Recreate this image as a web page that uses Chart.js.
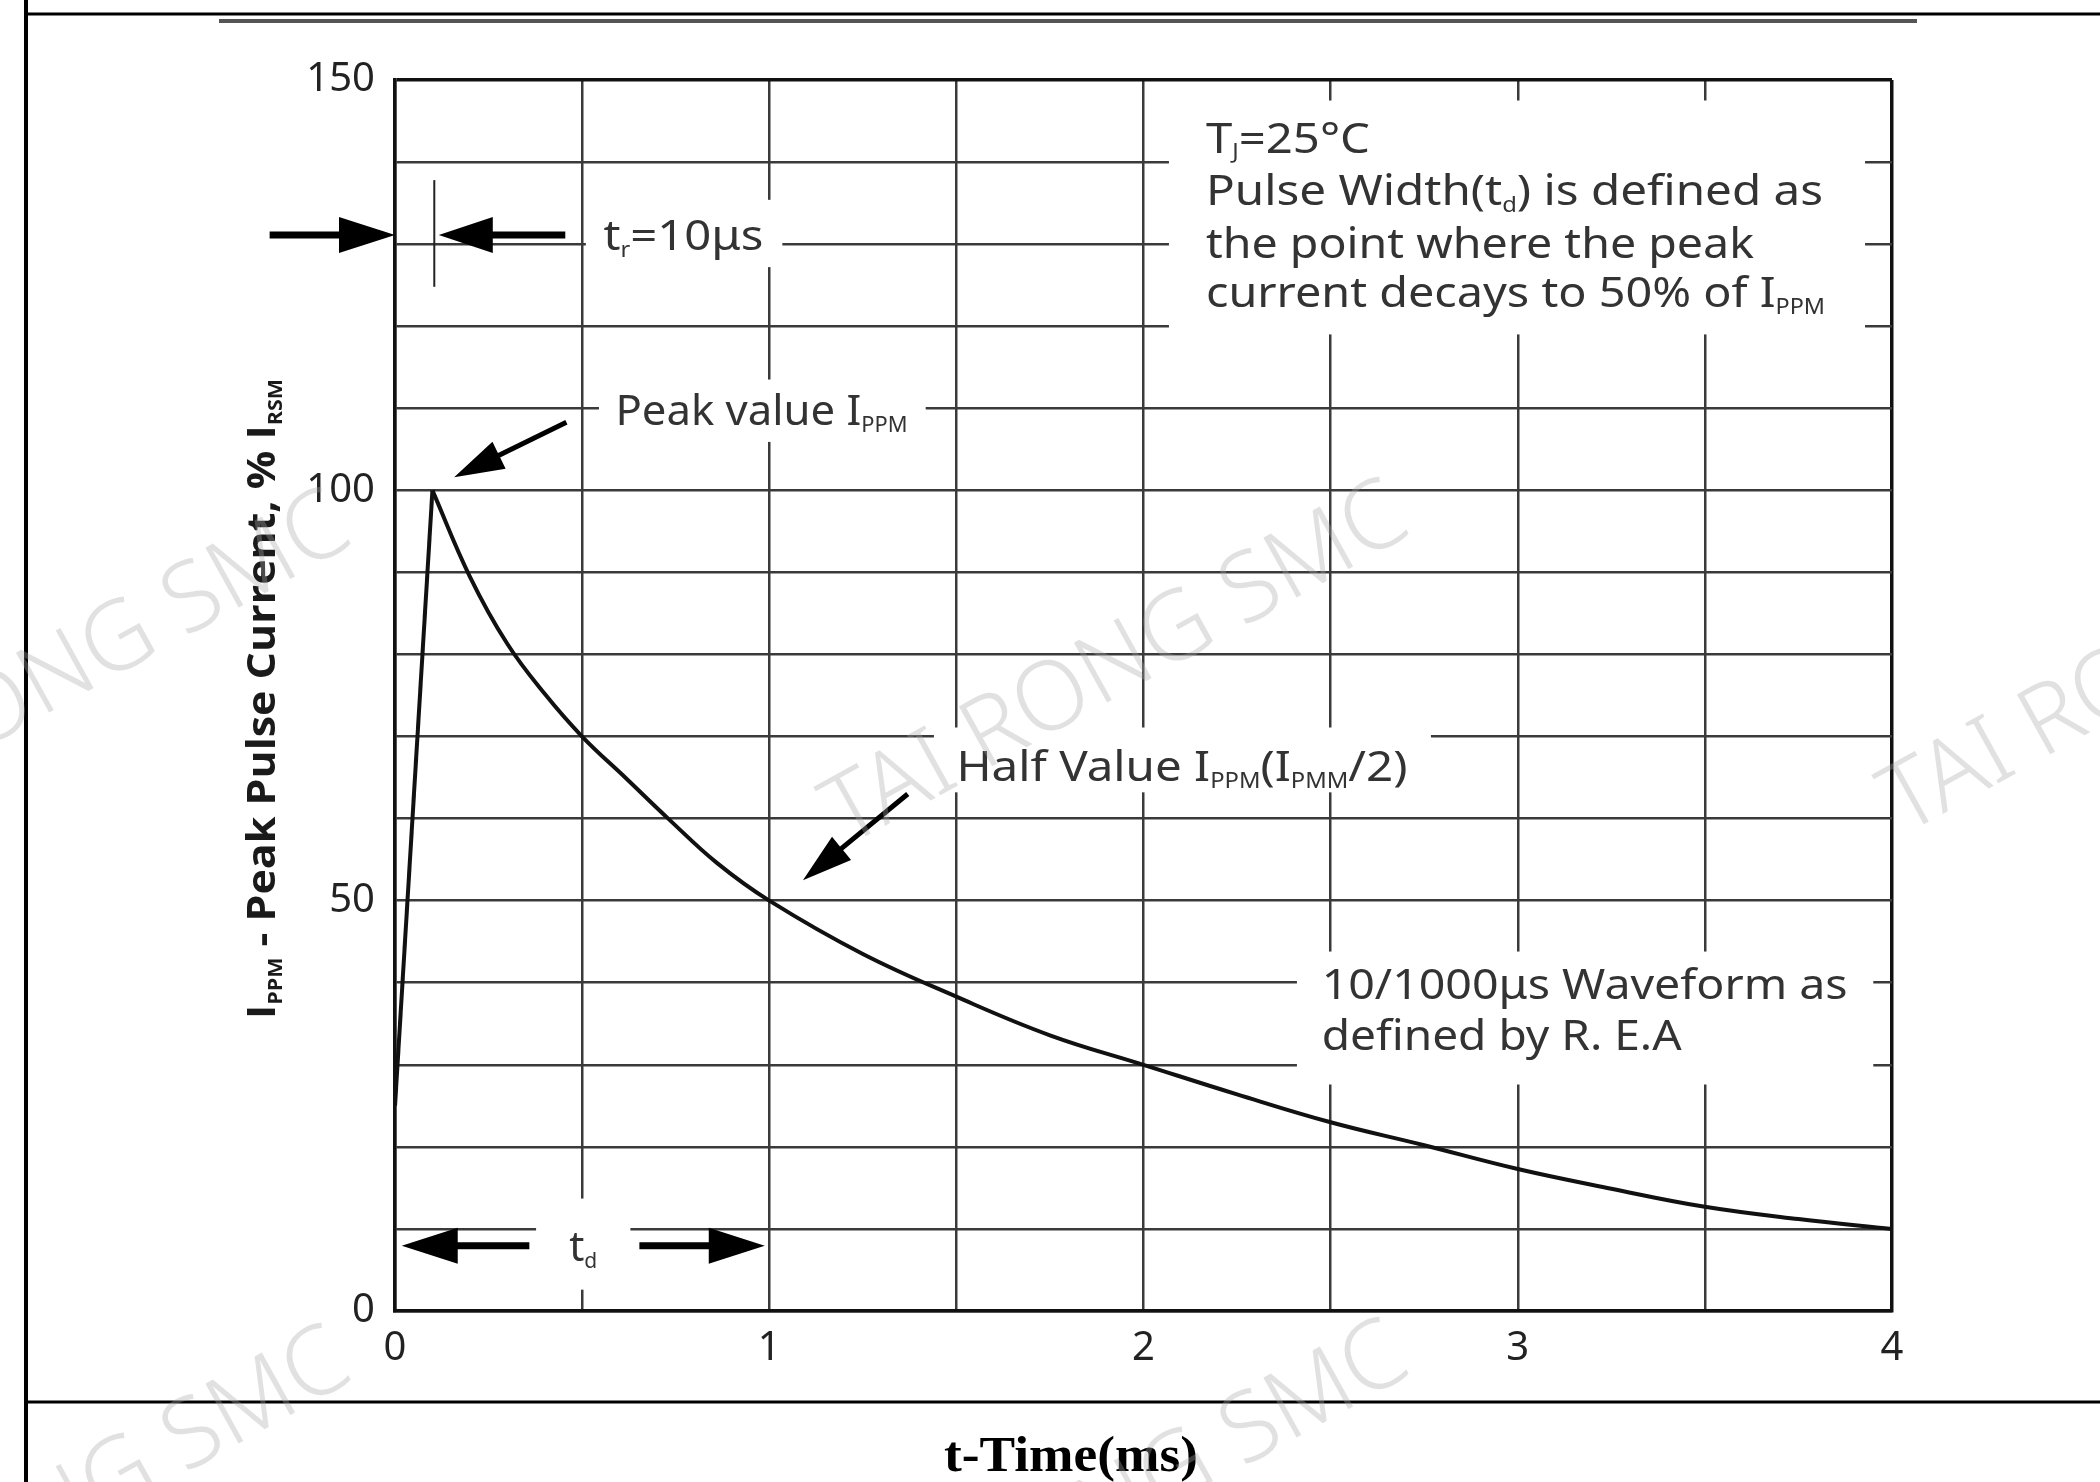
<!DOCTYPE html>
<html lang="en">
<head>
  <meta charset="UTF-8">
  <title>10/1000us Pulse Waveform</title>
  <script src="https://cdn.jsdelivr.net/npm/chart.js"></script>
  <style>
    html, body { margin: 0; padding: 0; background: #fff; }
    canvas { display: block; }
  </style>
</head>
<body>
<canvas id="waveChart" width="2100" height="1482" style="width:2100px;height:1482px"></canvas>

<script>
  // Curve: time in ms, current in % of I_PPM
  const riseTime = [0, 0.1];
  const riseValue = [25, 100];
  const decayTime = [0.1, 0.2, 0.3, 0.4, 0.5, 0.62, 0.73, 0.86, 1.0, 1.25, 1.5, 1.75, 2.0, 2.25, 2.5, 2.75, 3.0, 3.25, 3.5, 3.75, 4.0];
  const decayValue = [100, 89.5, 81.3, 75.2, 70, 64.8, 60, 54.6, 50, 43.5, 38.3, 33.6, 30, 26.4, 23, 20.2, 17.3, 14.9, 12.7, 11.2, 10];

  // Axis ticks
  const xLabels = [0, 1, 2, 3, 4];
  const yLabels = [0, 50, 100, 150];

  const SANS = 'Noto Sans';
  const TEXT = '#333';

  // Annotation layout, in data units (t, value)
  const boxes = [
    { t0: 2.068, t1: 3.928, v0: 119, v1: 147.5 },
    { t0: 0.51, t1: 1.035, v0: 127.2, v1: 135.4 },
    { t0: 0.545, t1: 1.418, v0: 105.9, v1: 113.5 },
    { t0: 1.44, t1: 2.768, v0: 63.2, v1: 71.1 },
    { t0: 2.41, t1: 3.95, v0: 27.6, v1: 43.8 },
    { t0: 0.377, t1: 0.629, v0: 2.6, v1: 13.7 }
  ];

  const notes = [
    { t: 2.167, v: 143, w: 164, segs: [{ s: 'T' }, { s: 'J', sub: true }, { s: '=25°C' }] },
    { t: 2.167, v: 136.6, w: 617, segs: [{ s: 'Pulse Width(t' }, { s: 'd', sub: true }, { s: ') is defined as' }] },
    { t: 2.167, v: 130.1, w: 548, segs: [{ s: 'the point where the peak' }] },
    { t: 2.167, v: 124.2, w: 619, segs: [{ s: 'current decays to 50% of I' }, { s: 'PPM', sub: true }] },
    { t: 0.557, v: 131.1, w: 160, segs: [{ s: 't' }, { s: 'r', sub: true }, { s: '=10μs' }] },
    { t: 0.589, v: 109.8, w: 292, segs: [{ s: 'Peak value I' }, { s: 'PPM', sub: true }] },
    { t: 1.5, v: 66.45, w: 451, segs: [{ s: 'Half Value I' }, { s: 'PPM', sub: true }, { s: '(I' }, { s: 'PMM', sub: true }, { s: '/2)' }] },
    { t: 2.476, v: 39.8, w: 526, segs: [{ s: '10/1000μs Waveform as' }] },
    { t: 2.476, v: 33.7, w: 360, segs: [{ s: 'defined by R. E.A' }] },
    { t: 0.503, v: 7.9, align: 'center', segs: [{ s: 't' }, { s: 'd', sub: true }] }
  ];

  const arrows = [
    { from: [-0.335, 131.1], to: [0, 131.1], w: 7, head: 56, hw: 36 },
    { from: [0.455, 131.1], to: [0.117, 131.1], w: 7, head: 54, hw: 36 },
    { from: [0.359, 7.94], to: [0.018, 7.94], w: 7, head: 56, hw: 36 },
    { from: [0.653, 7.94], to: [0.988, 7.94], w: 7, head: 56, hw: 36 },
    { from: [0.458, 108.3], to: [0.158, 101.6], w: 5, head: 50, hw: 30 },
    { from: [1.37, 63.0], to: [1.09, 52.5], w: 5, head: 50, hw: 30 }
  ];

  function drawRich(ctx, segs, x, y, o) {
    const size = o.size;
    const subSize = size * 0.5;
    const fam = o.family || SANS;
    const wt = o.weight || 'normal';
    const fontOf = s => `${wt} ${s.sub ? subSize : size}px "${fam}"`;
    ctx.save();
    let nat = 0;
    segs.forEach(s => { ctx.font = fontOf(s); nat += ctx.measureText(s.s).width; });
    const sx = o.width ? o.width / nat : 1;
    ctx.translate(x, y);
    if (o.rotate) ctx.rotate(o.rotate);
    if (o.align === 'center') ctx.translate(-nat * sx / 2, 0);
    ctx.scale(sx, 1);
    ctx.fillStyle = o.color || TEXT;
    ctx.textBaseline = 'alphabetic';
    ctx.textAlign = 'left';
    const base = size * 0.36;
    let cx = 0;
    segs.forEach(s => {
      ctx.font = fontOf(s);
      ctx.fillText(s.s, cx, s.sub ? base + size * 0.16 : base);
      cx += ctx.measureText(s.s).width;
    });
    ctx.restore();
  }

  function drawArrow(ctx, x1, y1, x2, y2, w, head, hw) {
    const len = Math.hypot(x2 - x1, y2 - y1);
    const ux = (x2 - x1) / len, uy = (y2 - y1) / len;
    const nx = -uy, ny = ux;
    const bx = x2 - ux * head, by = y2 - uy * head;
    ctx.save();
    ctx.fillStyle = '#000';
    ctx.beginPath();
    ctx.moveTo(x1 + nx * w / 2, y1 + ny * w / 2);
    ctx.lineTo(bx + nx * w / 2, by + ny * w / 2);
    ctx.lineTo(bx + nx * hw / 2, by + ny * hw / 2);
    ctx.lineTo(x2, y2);
    ctx.lineTo(bx - nx * hw / 2, by - ny * hw / 2);
    ctx.lineTo(bx - nx * w / 2, by - ny * w / 2);
    ctx.lineTo(x1 - nx * w / 2, y1 - ny * w / 2);
    ctx.closePath();
    ctx.fill();
    ctx.restore();
  }

  const annotations = {
    id: 'annotations',
    beforeDraw(chart) {
      const ctx = chart.ctx;
      ctx.save();
      ctx.fillStyle = '#fff';
      ctx.fillRect(0, 0, chart.width, chart.height);
      ctx.restore();
    },
    afterDatasetsDraw(chart) {
      const ctx = chart.ctx;
      const X = t => chart.scales.x.getPixelForValue(t);
      const Y = v => chart.scales.y.getPixelForValue(v);

      ctx.save();
      ctx.fillStyle = '#fff';
      boxes.forEach(b => {
        ctx.fillRect(X(b.t0), Y(b.v1), X(b.t1) - X(b.t0), Y(b.v0) - Y(b.v1));
      });
      ctx.restore();

      notes.forEach(n => drawRich(ctx, n.segs, X(n.t), Y(n.v), { size: 42, width: n.w, align: n.align }));

      arrows.forEach(a => drawArrow(ctx, X(a.from[0]), Y(a.from[1]), X(a.to[0]), Y(a.to[1]), a.w, a.head, a.hw));

      // rise-time marker
      ctx.save();
      ctx.strokeStyle = '#222';
      ctx.lineWidth = 2;
      ctx.beginPath();
      ctx.moveTo(X(0.105), Y(137.8));
      ctx.lineTo(X(0.105), Y(124.8));
      ctx.stroke();
      ctx.restore();
    },
    afterDraw(chart) {
      const ctx = chart.ctx;

      // axis titles
      drawRich(ctx, [{ s: 'I' }, { s: 'PPM', sub: true }, { s: ' - Peak Pulse Current, % I' }, { s: 'RSM', sub: true }],
        261, 699, { size: 40, weight: 'bold', family: 'Open Sans', width: 640, align: 'center', rotate: -Math.PI / 2, color: '#1a1a1a' });
      drawRich(ctx, [{ s: 't-Time(ms)' }], 1071, 1453, { size: 50, weight: 'bold', family: 'Liberation Serif', width: 254, align: 'center', color: '#000' });

      // page frame
      ctx.save();
      ctx.strokeStyle = '#000';
      ctx.lineWidth = 4;
      ctx.beginPath(); ctx.moveTo(26, 0); ctx.lineTo(26, chart.height); ctx.stroke();
      ctx.lineWidth = 3;
      ctx.beginPath(); ctx.moveTo(24, 14); ctx.lineTo(chart.width, 14); ctx.stroke();
      ctx.beginPath(); ctx.moveTo(24, 1402); ctx.lineTo(chart.width, 1402); ctx.stroke();
      ctx.strokeStyle = '#555';
      ctx.lineWidth = 4;
      ctx.beginPath(); ctx.moveTo(219, 21); ctx.lineTo(1917, 21); ctx.stroke();
      ctx.restore();

      // watermark
      ctx.save();
      ctx.font = `300 96px "${SANS}"`;
      ctx.fillStyle = 'rgba(170,170,170,0.35)';
      ctx.textAlign = 'center';
      ctx.textBaseline = 'alphabetic';
      [[72, 700], [1130, 690], [2188, 678], [72, 1536], [1130, 1530]].forEach(([cx, cy]) => {
        ctx.save();
        ctx.translate(cx, cy);
        ctx.rotate(-29 * Math.PI / 180);
        ctx.fillText('TAI RONG SMC', 0, 0);
        ctx.restore();
      });
      ctx.restore();
    }
  };

  const gridColor = edge => c => (c.tick && c.tick.value === edge) ? '#111' : '#3a3a3a';
  const gridWidth = edge => c => (c.tick && c.tick.value === edge) ? 3.5 : 2.5;

  const ctx = document.getElementById('waveChart').getContext('2d');
  new Chart(ctx, {
    type: 'line',
    data: {
      datasets: [
        {
          data: riseTime.map((t, i) => ({ x: t, y: riseValue[i] })),
          borderColor: '#111',
          borderWidth: 4,
          pointRadius: 0,
          tension: 0
        },
        {
          data: decayTime.map((t, i) => ({ x: t, y: decayValue[i] })),
          borderColor: '#111',
          borderWidth: 4,
          pointRadius: 0,
          tension: 0.4
        }
      ]
    },
    options: {
      responsive: false,
      devicePixelRatio: 1,
      animation: false,
      layout: { padding: { left: 0, top: 80, right: 208, bottom: 0 } },
      plugins: { legend: { display: false }, tooltip: { enabled: false } },
      scales: {
        x: {
          type: 'linear',
          min: 0,
          max: 4,
          afterFit: s => { s.height = 171; },
          ticks: {
            stepSize: 0.5,
            autoSkip: false,
            maxRotation: 0,
            padding: 14,
            color: '#222',
            font: { family: SANS, size: 40 },
            callback: v => xLabels.includes(v) ? String(v) : ''
          },
          grid: { color: gridColor(4), lineWidth: gridWidth(4), drawTicks: false },
          border: { display: true, color: '#111', width: 3.5 }
        },
        y: {
          min: 0,
          max: 150,
          afterFit: s => { s.width = 395; },
          ticks: {
            stepSize: 10,
            autoSkip: false,
            padding: 20,
            color: '#222',
            font: { family: SANS, size: 40 },
            callback: v => yLabels.includes(v) ? String(v) : ''
          },
          grid: { color: gridColor(150), lineWidth: gridWidth(150), drawTicks: false },
          border: { display: true, color: '#111', width: 3.5 }
        }
      }
    },
    plugins: [annotations]
  });
</script>
</body>
</html>
